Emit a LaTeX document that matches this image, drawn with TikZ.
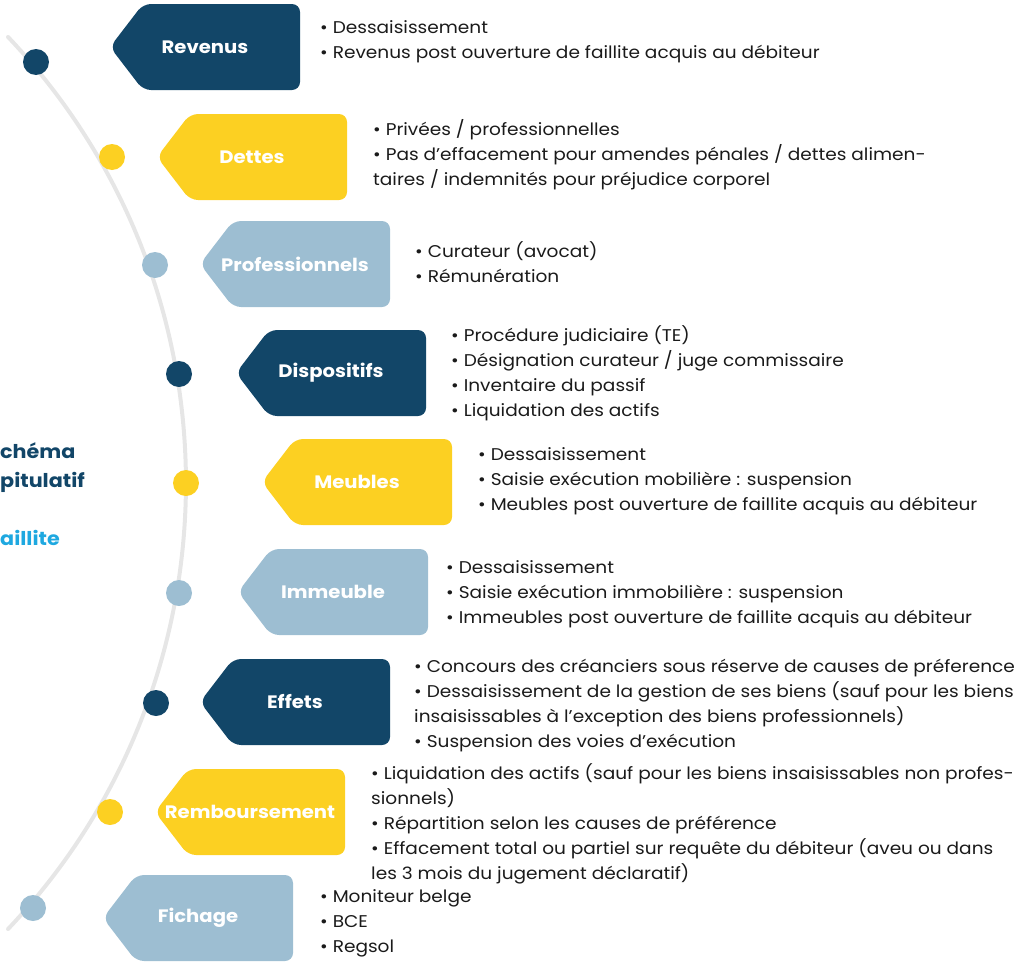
\documentclass[tikz,border=0pt]{standalone}
\usepackage{fontspec}
\setmainfont{Poppins}[FakeStretch=1.09]
\usetikzlibrary{positioning}
\definecolor{bleufonce}{HTML}{124668}
\definecolor{jaune}{HTML}{FCD022}
\definecolor{bleuclair}{HTML}{9DBED2}
\definecolor{gristrait}{HTML}{E6E6E6}
\definecolor{ciel}{HTML}{1EA8E0}
\definecolor{texte}{HTML}{1A1A1A}
\tikzset{
  etiquette/.style={rectangle,minimum width=190pt,minimum height=86pt,
    inner sep=0pt,text=white,font=\fontsize{18}{20}\selectfont\bfseries,
    path picture={\fill[#1,rounded corners=8pt]
      (path picture bounding box.west)
      -- ([xshift=33pt]path picture bounding box.north west)
      -- (path picture bounding box.north east)
      -- (path picture bounding box.south east)
      -- ([xshift=33pt]path picture bounding box.south west) -- cycle;}},
  puce/.style={circle,minimum size=26pt,inner sep=0pt},
  liste/.style={anchor=west,align=left,inner sep=0pt,text=texte,
    font=\fontsize{17}{25}\selectfont},
  titre/.style={anchor=base west,inner sep=0pt,
    font=\fontsize{19}{22}\selectfont\bfseries}
}
\begin{document}
\begin{tikzpicture}[x=1pt,y=1pt]
\useasboundingbox (0,0) rectangle (1019,-961);
% arc de gauche
\draw[gristrait,line width=4pt,line cap=round] (-462,-483) ++(43.5:648pt)
  arc[start angle=43.5,end angle=-43.5,radius=648pt];
% titre
\node[titre,text=bleufonce] (titre1) at (0,-458) {chéma};
\node[titre,text=bleufonce] (titre2) at (0,-487) {pitulatif};
\node[titre,text=ciel] (titre3) at (0,-545) {aillite};
% puces
\node[puce,fill=bleufonce] (p1) at (36,-62) {};
\node[puce,fill=jaune] (p2) at (112,-157) {};
\node[puce,fill=bleuclair] (p3) at (155,-265) {};
\node[puce,fill=bleufonce] (p4) at (179,-374) {};
\node[puce,fill=jaune] (p5) at (186,-483) {};
\node[puce,fill=bleuclair] (p6) at (179,-593) {};
\node[puce,fill=bleufonce] (p7) at (156,-703) {};
\node[puce,fill=jaune] (p8) at (110,-812) {};
\node[puce,fill=bleuclair] (p9) at (33,-908) {};
% etiquettes
\node[etiquette=bleufonce] (revenus) at (205,-47) {Revenus};
\node[etiquette=jaune] (dettes) at (252,-157) {Dettes};
\node[etiquette=bleuclair] (pros) at (295,-264) {Professionnels};
\node[etiquette=bleufonce] (dispo) at (331,-373) {Dispositifs};
\node[etiquette=jaune] (meubles) at (357,-482) {Meubles};
\node[etiquette=bleuclair] (immeuble) at (333,-592) {Immeuble};
\node[etiquette=bleufonce] (effets) at (295,-702) {Effets};
\node[etiquette=jaune] (rembt) at (250,-812) {Remboursement};
\node[etiquette=bleuclair] (fichage) at (198,-918) {Fichage};
% listes
\node[liste] (lrevenus) at (320,-42) {• Dessaisissement\\
  • Revenus post ouverture de faillite acquis au débiteur};
\node[liste] (ldettes) at (373,-155) {• Privées / professionnelles\\
  • Pas d’effacement pour amendes pénales / dettes alimen-\\
  taires / indemnités pour préjudice corporel};
\node[liste] (lpros) at (415,-262) {• Curateur (avocat)\\
  • Rémunération};
\node[liste] (ldispo) at (451,-373) {• Procédure judiciaire (TE)\\
  • Désignation curateur / juge commissaire\\
  • Inventaire du passif\\
  • Liquidation des actifs};
\node[liste] (lmeubles) at (478,-481) {• Dessaisissement\\
  • Saisie exécution mobilière : suspension\\
  • Meubles post ouverture de faillite acquis au débiteur};
\node[liste] (limmeuble) at (446,-594) {• Dessaisissement\\
  • Saisie exécution immobilière : suspension\\
  • Immeubles post ouverture de faillite acquis au débiteur};
\node[liste] (leffets) at (414,-706) {• Concours des créanciers sous réserve de causes de préference\\
  • Dessaisissement de la gestion de ses biens (sauf pour les biens\\
  insaisissables à l’exception des biens professionnels)\\
  • Suspension des voies d’exécution};
\node[liste] (lrembt) at (371,-824) {• Liquidation des actifs (sauf pour les biens insaisissables non profes-\\
  sionnels)\\
  • Répartition selon les causes de préférence\\
  • Effacement total ou partiel sur requête du débiteur (aveu ou dans\\
  les 3 mois du jugement déclaratif)};
\node[liste] (lfichage) at (320,-923) {• Moniteur belge\\
  • BCE\\
  • Regsol};
\end{tikzpicture}
\end{document}
